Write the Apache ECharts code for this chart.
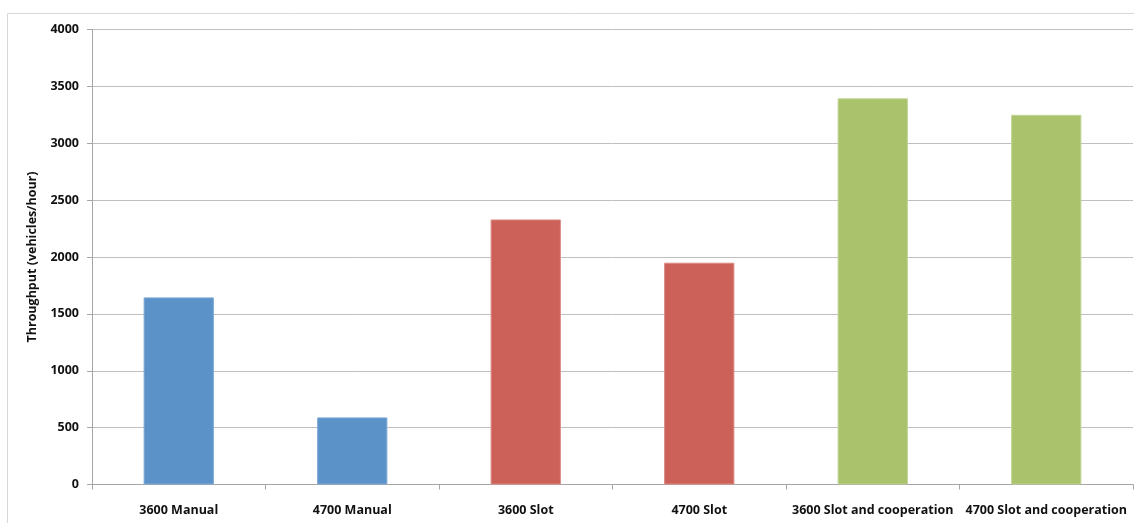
<!DOCTYPE html>
<html>
<head>
<meta charset="utf-8">
<script src="https://cdn.jsdelivr.net/npm/echarts@6/dist/echarts.min.js"></script>
<style>
  html, body { margin: 0; padding: 0; background: #fff; }
  #chart { width: 1134px; height: 523px; }
</style>
</head>
<body>
<div id="chart"></div>
<script>
// Throughput per scenario
const categories = ['3600 Manual', '4700 Manual', '3600 Slot', '4700 Slot', '3600 Slot and cooperation', '4700 Slot and cooperation'];
const throughput = [1645, 590, 2330, 1950, 3395, 3250];
const yTicks = { min: 0, max: 4000, interval: 500 };
const axisTitle = 'Throughput (vehicles/hour)';

// bar fills by scenario group
const palette = ['#5b93c8', '#5b93c8', '#cb6159', '#cb6159', '#a9c26b', '#a9c26b'];
const edges = ['#7fa9d6', '#7fa9d6', '#dc8a83', '#dc8a83', '#c0d494', '#c0d494'];

const chart = echarts.init(document.getElementById('chart'), null, { renderer: 'canvas' });
const font = '"Open Sans", "DejaVu Sans", sans-serif';

chart.setOption({
  animation: false,
  backgroundColor: '#ffffff',
  graphic: [{
    type: 'rect',
    shape: { x: 7.5, y: 13.5, width: 1140, height: 530 },
    style: { fill: 'none', stroke: '#d9d9d9', lineWidth: 1 },
    silent: true
  }],
  grid: { left: 92, right: 1, top: 29.5, bottom: 38.5, containLabel: false },
  xAxis: {
    type: 'category',
    data: categories,
    axisLine: { lineStyle: { color: '#a6a6a6', width: 1 } },
    axisTick: { show: true, length: 5, lineStyle: { color: '#a6a6a6' } },
    axisLabel: {
      color: '#111', fontFamily: font, fontWeight: 'bold', fontSize: 12.5,
      margin: 19, interval: 0
    },
    splitLine: { show: false }
  },
  yAxis: {
    type: 'value',
    min: yTicks.min, max: yTicks.max, interval: yTicks.interval,
    name: axisTitle,
    nameLocation: 'middle',
    nameRotate: 90,
    nameGap: 53,
    nameTextStyle: { color: '#111', fontFamily: font, fontWeight: 'bold', fontSize: 12.5 },
    axisLine: { show: true, lineStyle: { color: '#a6a6a6', width: 1 } },
    axisTick: { show: true, length: 5, lineStyle: { color: '#a6a6a6' } },
    axisLabel: {
      color: '#111', fontFamily: font, fontWeight: 'bold', fontSize: 12.5, margin: 13,
      formatter: v => String(v)
    },
    splitLine: { show: true, lineStyle: { color: '#bfbfbf', width: 1 } }
  },
  series: [{
    type: 'bar',
    barWidth: '40.5%',
    data: throughput.map((v, i) => ({
      value: v,
      itemStyle: { color: palette[i], borderColor: edges[i], borderWidth: 1 }
    }))
  }]
});
</script>
</body>
</html>
